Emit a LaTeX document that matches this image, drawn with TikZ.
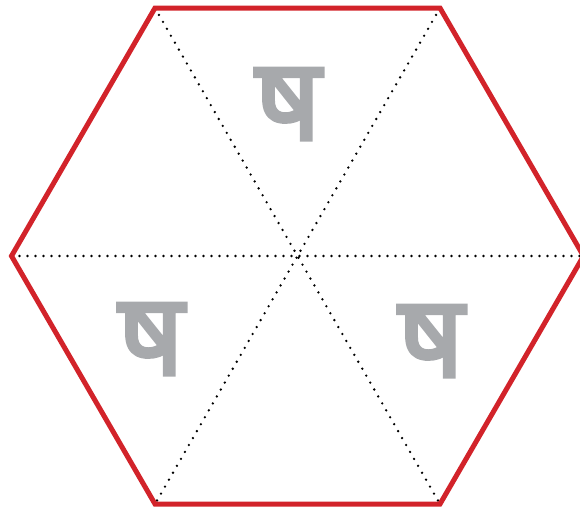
\documentclass[tikz,border=0pt]{standalone}
\usepackage{fontspec}
\newfontfamily\devafont[Script=Devanagari, FakeBold=3]{Noto Sans}
\definecolor{hexred}{HTML}{D2232A}
\definecolor{glyphgrey}{HTML}{A7A9AC}
\tikzset{
  hexedge/.style={draw=hexred, line width=5pt, line join=miter},
  diag/.style={draw=black, line width=2.6pt, dash pattern=on 0pt off 8pt, line cap=round},
  glyph/.style={text=glyphgrey, font=\devafont\fontsize{115}{115}\selectfont, inner sep=0pt}
}
\begin{document}
\begin{tikzpicture}[x=1pt,y=-1pt]
\useasboundingbox (0,0) rectangle (580,509);
\coordinate (c) at (297.5,256);
\coordinate (v1) at (155,8);
\coordinate (v2) at (440,8);
\coordinate (v3) at (583.5,256);
\coordinate (v4) at (440,504);
\coordinate (v5) at (155,504);
\coordinate (v6) at (11.5,256);
\draw[diag] (v1) -- (v4);
\draw[diag] (v2) -- (v5);
\draw[diag] (v6) -- (v3);
\draw[hexedge] (v1) -- (v2) -- (v3) -- (v4) -- (v5) -- (v6) -- cycle;
\node[glyph] (g1) at (288,104) {ष};
\node[glyph] (g2) at (151,339) {ष};
\node[glyph] (g3) at (431,341) {ष};
\end{tikzpicture}
\end{document}
